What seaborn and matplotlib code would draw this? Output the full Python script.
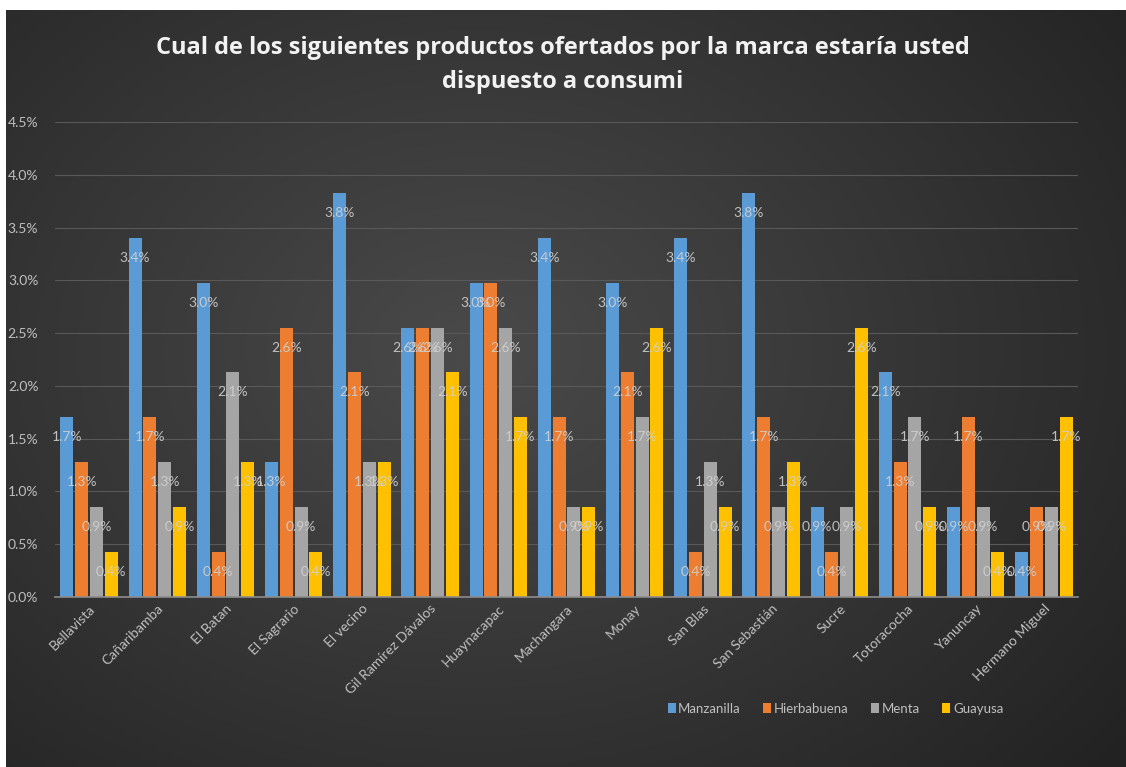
import numpy as np
import pandas as pd
import matplotlib
matplotlib.use("Agg")
import matplotlib.pyplot as plt
import seaborn as sns

# Survey results: share of respondents per parish and product (%)
zonas = ["Bellavista", "Cañaribamba", "El Batan", "El Sagrario", "El vecino",
         "Gil Ramírez Dávalos", "Huaynacapac", "Machangara", "Monay", "San Blas",
         "San Sebastián", "Sucre", "Totoracocha", "Yanuncay", "Hermano Miguel"]
productos = ["Manzanilla", "Hierbabuena", "Menta", "Guayusa"]

manzanilla = [1.702, 3.404, 2.979, 1.277, 3.830, 2.553, 2.979, 3.404, 2.979, 3.404,
              3.830, 0.851, 2.128, 0.851, 0.426]
hierbabuena = [1.277, 1.702, 0.426, 2.553, 2.128, 2.553, 2.979, 1.702, 2.128, 0.426,
               1.702, 0.426, 1.277, 1.702, 0.851]
menta = [0.851, 1.277, 2.128, 0.851, 1.277, 2.553, 2.553, 0.851, 1.702, 1.277,
         0.851, 0.851, 1.702, 0.851, 0.851]
guayusa = [0.426, 0.851, 1.277, 0.426, 1.277, 2.128, 1.702, 0.851, 2.553, 0.851,
           1.277, 2.553, 0.851, 0.426, 1.702]

yticks = [0.0, 0.5, 1.0, 1.5, 2.0, 2.5, 3.0, 3.5, 4.0, 4.5]
titulo = ("Cual de los siguientes productos ofertados por la marca estaría usted\n"
          "dispuesto a consumi")

colores = ["#5B9BD5", "#ED7D31", "#A5A5A5", "#FFC000"]

series = [manzanilla, hierbabuena, menta, guayusa]
df = pd.DataFrame({
    "zona": np.tile(zonas, len(productos)),
    "producto": np.repeat(productos, len(zonas)),
    "valor": np.concatenate([np.array(s) / 100 for s in series]),
})

sns.set_theme(style="dark")
plt.rcParams["font.family"] = ["Lato", "DejaVu Sans"]

W, H = 1126, 767
fig = plt.figure(figsize=(W / 100, H / 100), dpi=100, facecolor="white")

# dark panel with a soft radial glow
bg = fig.add_axes([6 / W, 0, (W - 6) / W, (H - 10) / H])
yy, xx = np.mgrid[0:1:400j, 0:1:600j]
r = np.sqrt(((xx - 0.42) / 0.75) ** 2 + ((yy - 0.55) / 0.85) ** 2)
r = np.clip(r, 0, 1)
inner = np.array([0x4a, 0x4a, 0x4a]) / 255
outer = np.array([0x22, 0x22, 0x22]) / 255
img = inner[None, None, :] * (1 - r[..., None]) + outer[None, None, :] * r[..., None]
bg.imshow(img, aspect="auto", extent=[0, 1, 0, 1], origin="lower")
bg.set_axis_off()

ax = fig.add_axes([55 / W, (H - 597) / H, (1078 - 55) / W, (597 - 122) / H])
ax.patch.set_alpha(0)

sns.barplot(data=df, x="zona", y="valor", hue="producto", hue_order=productos,
            palette=colores, width=0.87, gap=0.12, saturation=1,
            edgecolor="none", ax=ax)

ax.set_xlim(-0.5, len(zonas) - 0.5)
ax.set_ylim(0, 0.045)
ax.set_yticks([t / 100 for t in yticks])
ax.set_yticklabels([f"{t:.1f}%" for t in yticks], color="#bfbfbf", fontsize=10)
ax.tick_params(axis="y", length=0, pad=12)
ax.tick_params(axis="x", length=0, pad=4)
ax.set_xticks(range(len(zonas)))
ax.set_xticklabels(zonas, rotation=45, ha="right", rotation_mode="anchor",
                   color="#bfbfbf", fontsize=10)
ax.set_xlabel("")
ax.set_ylabel("")
ax.grid(axis="y", color="#595959", linewidth=0.8)
ax.set_axisbelow(True)
for s in ["top", "right", "left"]:
    ax.spines[s].set_visible(False)
ax.spines["bottom"].set_color("#8c8c8c")
ax.spines["bottom"].set_linewidth(1.2)

# value labels just inside the top of each bar
for cont in ax.containers:
    for bar in cont:
        h = bar.get_height()
        ax.text(bar.get_x() + bar.get_width() / 2, h - 0.0019, f"{h:.1%}",
                ha="center", va="center", fontsize=10, color="#d0d0d0", alpha=0.9)

leg = ax.legend(loc="center", bbox_to_anchor=(0.742, 0.076),
                bbox_transform=fig.transFigure, ncol=4, frameon=False,
                handlelength=0.6, handleheight=0.8, handletextpad=0.2,
                columnspacing=1.7, fontsize=9.5)
for t in leg.get_texts():
    t.set_color("#bfbfbf")

fig.text(0.5, (H - 65) / H, titulo, ha="center", va="center", color="#f2f2f2",
         fontsize=17, fontweight="bold", linespacing=1.5,
         family=["Open Sans", "DejaVu Sans"])

fig.savefig("out.png", dpi=100, facecolor=fig.get_facecolor())
